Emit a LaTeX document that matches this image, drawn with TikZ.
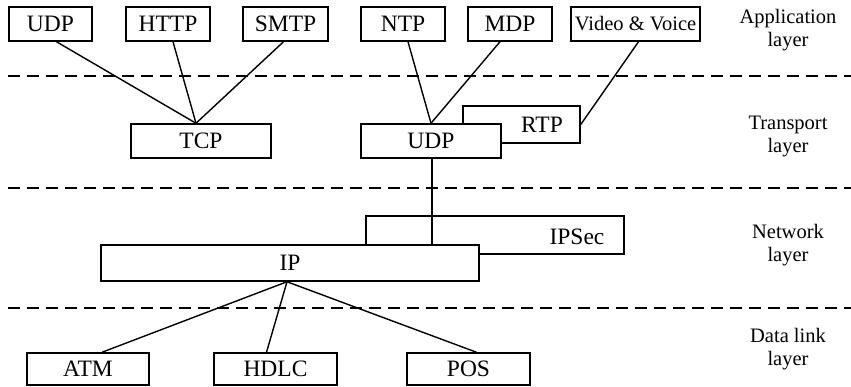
\documentclass[tikz,border=0pt]{standalone}
\usepackage{fontspec}
\setmainfont{Liberation Serif}
\begin{document}
\begin{tikzpicture}[x=1pt,y=-1pt,
  box/.style={draw,line width=1.5pt,fill=white,inner sep=0pt,
    font=\fontsize{23.5}{27}\selectfont},
  lyr/.style={align=center,font=\fontsize{20.5}{23}\selectfont},
  conn/.style={line width=1.4pt},
  sep/.style={line width=1.5pt,dash pattern=on 12pt off 7pt}]
\useasboundingbox (0,0) rectangle (851,386);
% application layer
\node[box,minimum width=83,minimum height=34] (udpa) at (50.5,24) {UDP};
\node[box,minimum width=84,minimum height=34] (http) at (168,24) {HTTP};
\node[box,minimum width=85,minimum height=34] (smtp) at (285.5,24) {SMTP};
\node[box,minimum width=84,minimum height=34] (ntp) at (403,24) {NTP};
\node[box,minimum width=84,minimum height=34] (mdp) at (510,24) {MDP};
\node[box,minimum width=129,minimum height=34,font=\fontsize{20.5}{23}\selectfont] (vv) at (635.5,24) {Video \& Voice};
% transport layer
\node[box,minimum width=140,minimum height=34] (tcp) at (201,141) {TCP};
\node[box,minimum width=117,minimum height=37] (rtp) at (521.5,124.5) {};
\node[font=\fontsize{23.5}{27}\selectfont] (rtpt) at (542,125) {RTP};
\node[box,minimum width=140,minimum height=34] (udp) at (431,141) {UDP};
% network layer
\node[box,minimum width=258,minimum height=38] (ipsec) at (495,235) {};
\node[font=\fontsize{23.5}{27}\selectfont] (ipsect) at (577,237) {IPSec};
\draw[conn] ([xshift=1pt]udp.south) -- ([xshift=1pt]udp.south |- 0,245);
\node[box,minimum width=378,minimum height=36] (ip) at (290,263) {IP};
% data link layer
\node[box,minimum width=122,minimum height=32] (atm) at (88,369) {ATM};
\node[box,minimum width=123,minimum height=32] (hdlc) at (275.5,369) {HDLC};
\node[box,minimum width=123,minimum height=32] (pos) at (468.5,369) {POS};
% connectors
\draw[conn] ([xshift=6pt]udpa.south) -- ([xshift=-5pt]tcp.north);
\draw[conn] ([xshift=5pt]http.south) -- ([xshift=-5pt]tcp.north);
\draw[conn] ([xshift=-2pt]smtp.south) -- ([xshift=-5pt]tcp.north);
\draw[conn] ([xshift=5pt]ntp.south) -- (udp.north);
\draw[conn] ([xshift=-10pt]mdp.south) -- (udp.north);
\draw[conn] ([xshift=3pt]vv.south) -- (rtp.east);
\draw[conn] ([xshift=-3pt]ip.south) -- ([xshift=14pt]atm.north);
\draw[conn] ([xshift=-3pt]ip.south) -- ([xshift=-9pt]hdlc.north);
\draw[conn] ([xshift=-3pt]ip.south) -- ([xshift=8pt]pos.north);
% separators
\coordinate (s1a) at (8,76); \coordinate (s1b) at (851,76);
\coordinate (s2a) at (8,188); \coordinate (s2b) at (851,188);
\coordinate (s3a) at (8,308); \coordinate (s3b) at (851,308);
\draw[sep] (s1a) -- (s1b);
\draw[sep] (s2a) -- (s2b);
\draw[sep] (s3a) -- (s3b);
% layer labels
\node[lyr] (la) at (788,30) {Application\\layer};
\node[lyr] (lt) at (788,136) {Transport\\layer};
\node[lyr] (ln) at (788,245) {Network\\layer};
\node[lyr] (ld) at (788,349) {Data link\\layer};
\end{tikzpicture}
\end{document}
